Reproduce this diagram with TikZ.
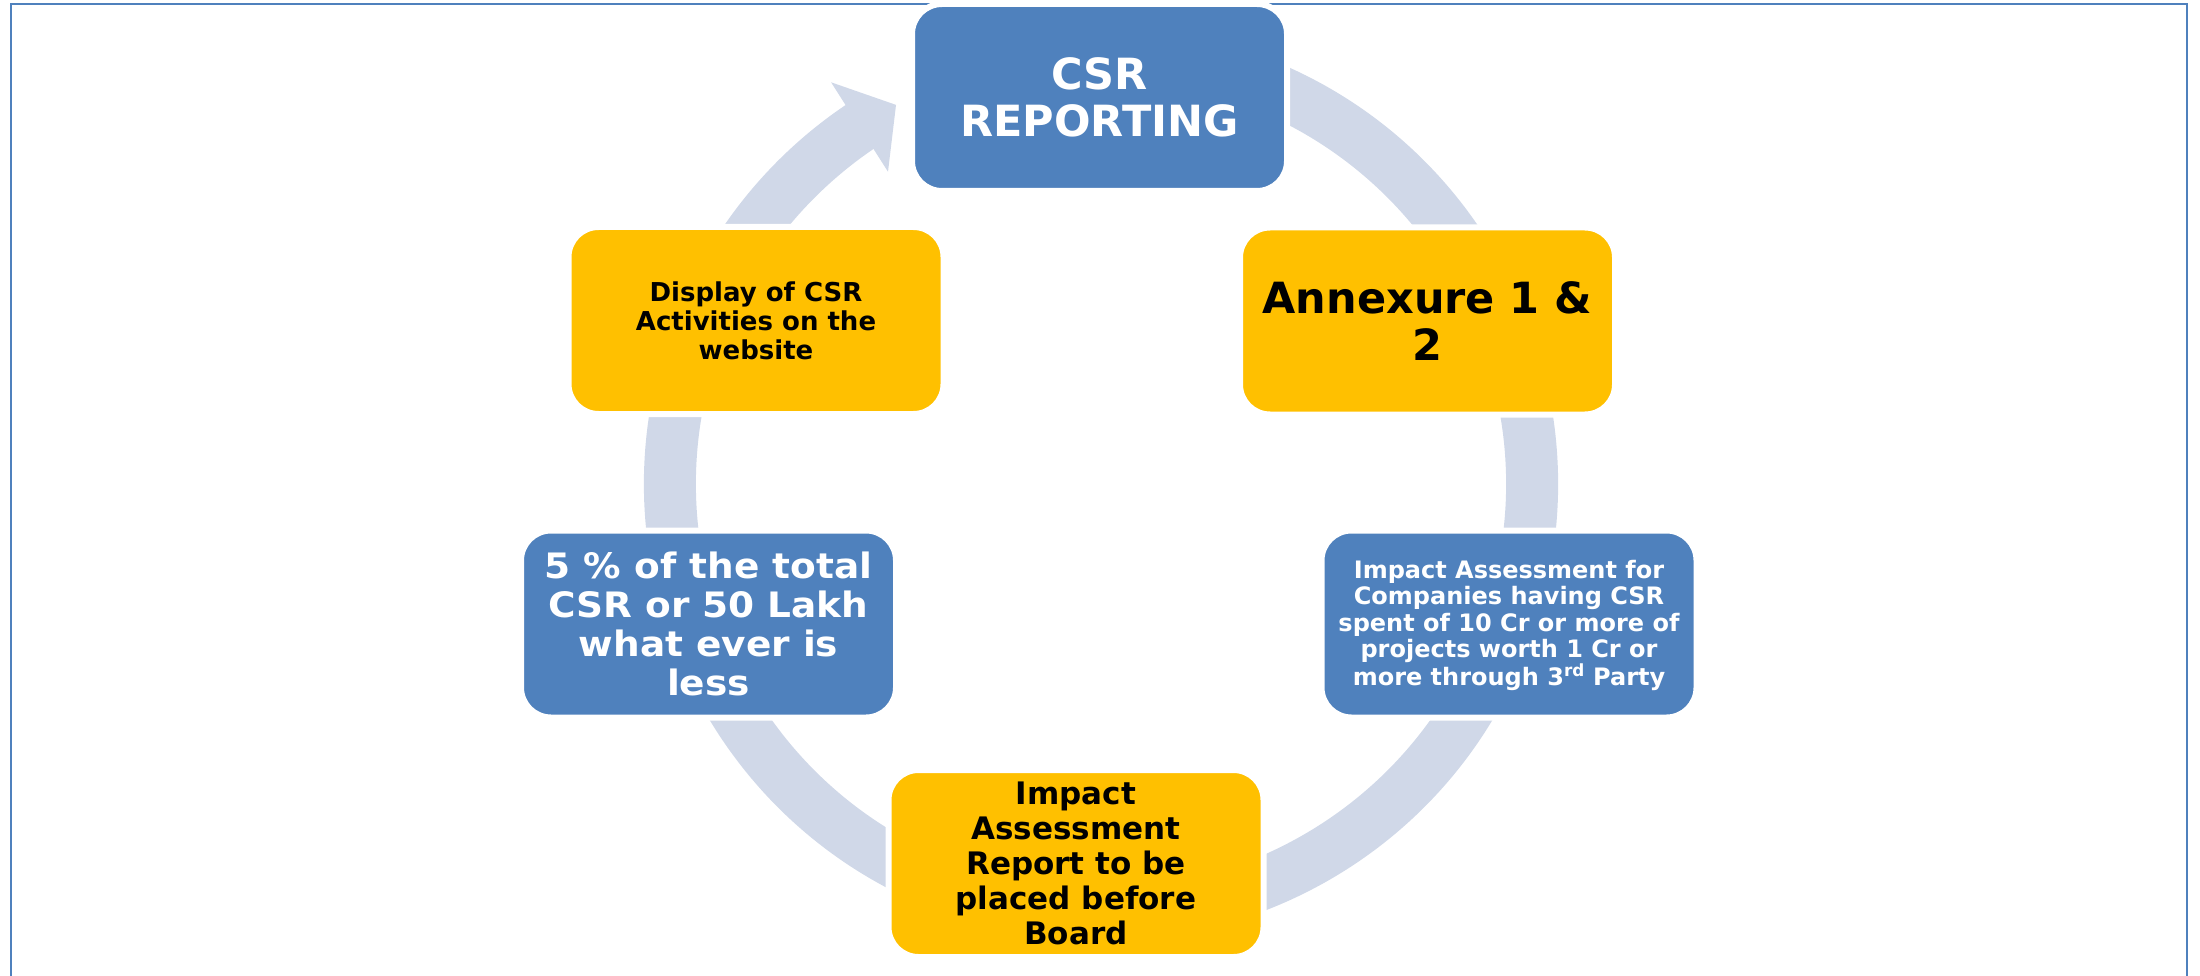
\documentclass[tikz,border=0pt]{standalone}
\usepackage{fontspec}
\setmainfont{DejaVu Sans}
\newfontfamily\widesans{DejaVu Sans}[FakeStretch=1.07]
\usetikzlibrary{calc}
\definecolor{cycleblue}{RGB}{79,129,189}
\definecolor{cyclegold}{RGB}{255,192,0}
\definecolor{ringgrey}{RGB}{208,216,232}
\begin{document}
\begin{tikzpicture}[x=1pt,y=-1pt,
  % rounded step box; the white outline keeps a gap between box and ring
  box/.style={rectangle, rounded corners=30pt, minimum width=375pt,
    minimum height=187pt, inner sep=0pt, draw=white, line width=6pt,
    align=center, text depth=0pt},
  bluebox/.style={box, fill=cycleblue, text=white},
  goldbox/.style={box, fill=cyclegold, text=black},
  ring/.style={draw=ringgrey, line width=52pt},
  frame/.style={draw=cycleblue, line width=2pt}]

\useasboundingbox (0,0) rectangle (2200,976);

% outer frame
\coordinate (fbl) at (11,976);
\coordinate (ftl) at (11,4);
\coordinate (ftr) at (2187,4);
\coordinate (fbr) at (2187,976);
\draw[frame] (fbl) -- (ftl) -- (ftr) -- (fbr);

% cycle ring with its arrow head, running clockwise into the top box
\coordinate (c) at (1101,484);
\draw[ring] ($(c)+(-70:431)$) arc[start angle=-70, end angle=236.1, radius=431];
\fill[ringgrey] ($(c)+(-123.9:484)$) -- ($(c)+(-118.4:431)$) -- ($(c)+(-124.3:378)$) -- cycle;

% steps
\node[bluebox, text height=78.3pt, font=\bfseries\fontsize{43}{47}\selectfont]
  (report) at (1099.5,97.5) {CSR\\REPORTING};
\node[goldbox, text height=78.3pt, font=\bfseries\fontsize{43}{47}\selectfont]
  (annex) at (1427.5,321) {Annexure 1 \&\\2};
\node[bluebox, text height=122.7pt, font=\bfseries\fontsize{24}{26.3}\selectfont]
  (impact) at (1509,624) {Impact Assessment for\\Companies having CSR\\spent of 10 Cr or more of\\projects worth 1 Cr or\\more through 3\textsuperscript{rd} Party};
\node[goldbox, text height=162.6pt, font=\bfseries\fontsize{31}{35}\selectfont]
  (board) at (1076,863.5) {Impact\\Assessment\\Report to be\\placed before\\Board};
\node[bluebox, text height=142.5pt, font=\widesans\bfseries\fontsize{35}{39}\selectfont]
  (share) at (708.5,624) {5 \% of the total\\CSR or 50 Lakh\\what ever is\\less};
\node[goldbox, text height=77pt, font=\bfseries\fontsize{26}{29}\selectfont]
  (website) at (756,320.5) {Display of CSR\\Activities on the\\website};
\end{tikzpicture}
\end{document}
